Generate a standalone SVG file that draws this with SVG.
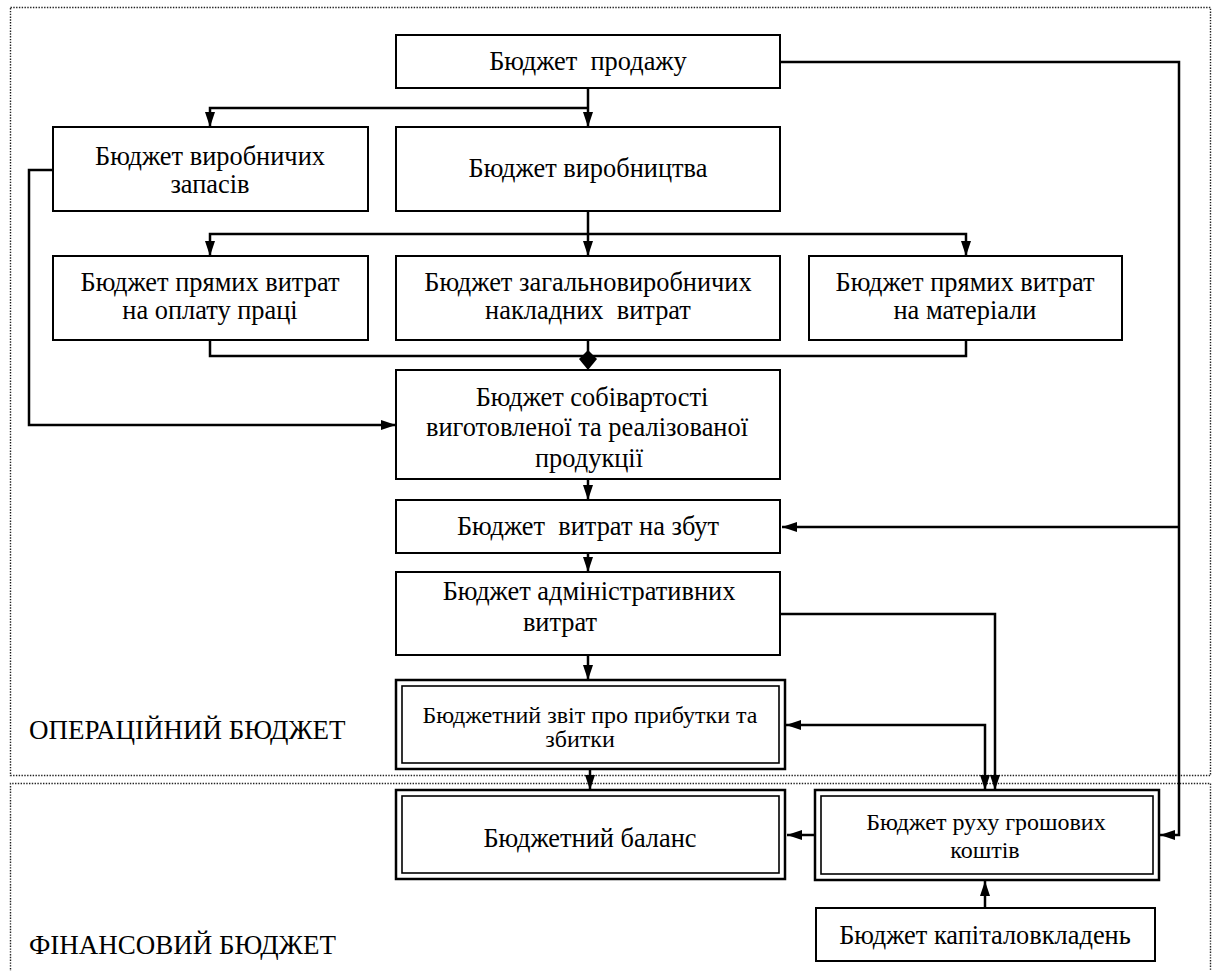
<svg xmlns="http://www.w3.org/2000/svg" width="1218" height="971" viewBox="0 0 1218 971">
<style>
  .bg { fill: #ffffff; }
  .box { fill: #ffffff; stroke: #000000; stroke-width: 2; }
  .dbl-out { fill: #ffffff; stroke: #000000; stroke-width: 2.5; }
  .dbl-in { fill: none; stroke: #000000; stroke-width: 1.6; }
  .zone { fill: none; stroke: #222222; stroke-width: 1.4; stroke-dasharray: 1.4 1.4; }
  .t { font-family: "Liberation Serif", "Times New Roman", serif; font-size: 26.4px; fill: #000000; text-anchor: middle; white-space: pre; }
  .ts { font-family: "Liberation Serif", "Times New Roman", serif; font-size: 24px; fill: #000000; text-anchor: middle; white-space: pre; }
  .lbl { font-family: "Liberation Serif", "Times New Roman", serif; font-size: 27px; fill: #000000; text-anchor: start; }
  .c { fill: none; stroke: #000000; stroke-width: 2.5; stroke-linejoin: miter; }
  .head { fill: #000000; stroke: none; }
</style>
<defs>
  <marker id="arr" markerWidth="15" markerHeight="10" refX="15" refY="5" orient="auto" markerUnits="userSpaceOnUse">
    <path class="head" d="M0,0 L15,5 L0,10 Z"/>
  </marker>
  <marker id="arrs" markerWidth="15" markerHeight="10" refX="0" refY="5" orient="auto" markerUnits="userSpaceOnUse">
    <path class="head" d="M15,0 L0,5 L15,10 Z"/>
  </marker>
</defs>
<rect class="bg" x="0" y="0" width="1218" height="971"/>

<g id="zones">
  <rect class="zone" x="10.5" y="7.5" width="1200" height="768"/>
  <path class="zone" d="M10.5,975 L10.5,783.5 L1210.5,783.5 L1210.5,975"/>
  <text class="lbl" x="29" y="739">ОПЕРАЦІЙНИЙ БЮДЖЕТ</text>
  <text class="lbl" x="29" y="954">ФІНАНСОВИЙ БЮДЖЕТ</text>
</g>

<g id="connectors">
  <path class="c" d="M588,88 L588,127" marker-end="url(#arr)"/>
  <path class="c" d="M588,108 L210,108 L210,127" marker-end="url(#arr)"/>
  <path class="c" d="M588,211 L588,256" marker-end="url(#arr)"/>
  <path class="c" d="M588,234 L210,234 L210,256" marker-end="url(#arr)"/>
  <path class="c" d="M588,234 L966,234 L966,256" marker-end="url(#arr)"/>
  <path class="c" d="M210,340 L210,356 L966,356 L966,340"/>
  <path class="c" d="M588,340 L588,356"/>
  <path class="head" d="M588,350 L597,359 L588,370 L579,359 Z"/>
  <path class="c" d="M53,170 L29,170 L29,425 L396,425" marker-end="url(#arr)"/>
  <path class="c" d="M588,479 L588,500" marker-end="url(#arr)"/>
  <path class="c" d="M588,553 L588,572" marker-end="url(#arr)"/>
  <path class="c" d="M588,655 L588,680" marker-end="url(#arr)"/>
  <path class="c" d="M590,769 L590,790" marker-end="url(#arr)"/>
  <path class="c" d="M780,62 L1179,62 L1179,835 L1160,835" marker-end="url(#arr)"/>
  <path class="c" d="M1179,527 L782,527" marker-end="url(#arr)"/>
  <path class="c" d="M780,614 L995,614 L995,790" marker-end="url(#arr)"/>
  <path class="c" d="M786,725 L985,725 L985,790" marker-start="url(#arrs)" marker-end="url(#arr)"/>
  <path class="c" d="M815,835 L787,835" marker-end="url(#arr)"/>
  <path class="c" d="M985,908 L985,881" marker-end="url(#arr)"/>
</g>

<g id="n-sales">
  <rect class="box" x="396" y="35" width="384" height="53"/>
  <text class="t" x="588" y="70">Бюджет  продажу</text>
</g>
<g id="n-stock">
  <rect class="box" x="53" y="127" width="315" height="84"/>
  <text class="t" x="210" y="165">Бюджет виробничих</text>
  <text class="t" x="210" y="193">запасів</text>
</g>
<g id="n-production">
  <rect class="box" x="396" y="127" width="384" height="84"/>
  <text class="t" x="588" y="177">Бюджет виробництва</text>
</g>
<g id="n-labour">
  <rect class="box" x="53" y="256" width="315" height="84"/>
  <text class="t" x="210" y="291">Бюджет прямих витрат</text>
  <text class="t" x="210" y="319">на оплату праці</text>
</g>
<g id="n-overhead">
  <rect class="box" x="396" y="256" width="384" height="84"/>
  <text class="t" x="588" y="291">Бюджет загальновиробничих</text>
  <text class="t" x="588" y="319">накладних  витрат</text>
</g>
<g id="n-materials">
  <rect class="box" x="809" y="256" width="313" height="84"/>
  <text class="t" x="965" y="291">Бюджет прямих витрат</text>
  <text class="t" x="965" y="319">на матеріали</text>
</g>
<g id="n-cost">
  <rect class="box" x="396" y="370" width="384" height="109"/>
  <text class="t" x="592" y="406">Бюджет собівартості</text>
  <text class="t" x="587" y="436">виготовленої та реалізованої</text>
  <text class="t" x="589" y="467">продукції</text>
</g>
<g id="n-selling">
  <rect class="box" x="396" y="500" width="384" height="53"/>
  <text class="t" x="588" y="535">Бюджет  витрат на збут</text>
</g>
<g id="n-admin">
  <rect class="box" x="396" y="572" width="384" height="83"/>
  <text class="t" x="589" y="600">Бюджет адміністративних</text>
  <text class="t" x="560" y="631">витрат</text>
</g>
<g id="n-pl">
  <rect class="dbl-out" x="396" y="680" width="389" height="89"/>
  <rect class="dbl-in" x="402" y="686" width="377" height="77"/>
  <text class="ts" x="590" y="723">Бюджетний звіт про прибутки та</text>
  <text class="ts" x="580" y="747">збитки</text>
</g>
<g id="n-balance">
  <rect class="dbl-out" x="396" y="790" width="389" height="89"/>
  <rect class="dbl-in" x="402" y="796" width="377" height="77"/>
  <text class="t" x="590" y="847">Бюджетний баланс</text>
</g>
<g id="n-cash">
  <rect class="dbl-out" x="815" y="790" width="344" height="90"/>
  <rect class="dbl-in" x="821" y="796" width="332" height="78"/>
  <text class="ts" x="986" y="830">Бюджет руху грошових</text>
  <text class="ts" x="985" y="858">коштів</text>
</g>
<g id="n-capex">
  <rect class="box" x="816" y="908" width="339" height="53"/>
  <text class="t" x="985" y="944">Бюджет капіталовкладень</text>
</g>
</svg>
